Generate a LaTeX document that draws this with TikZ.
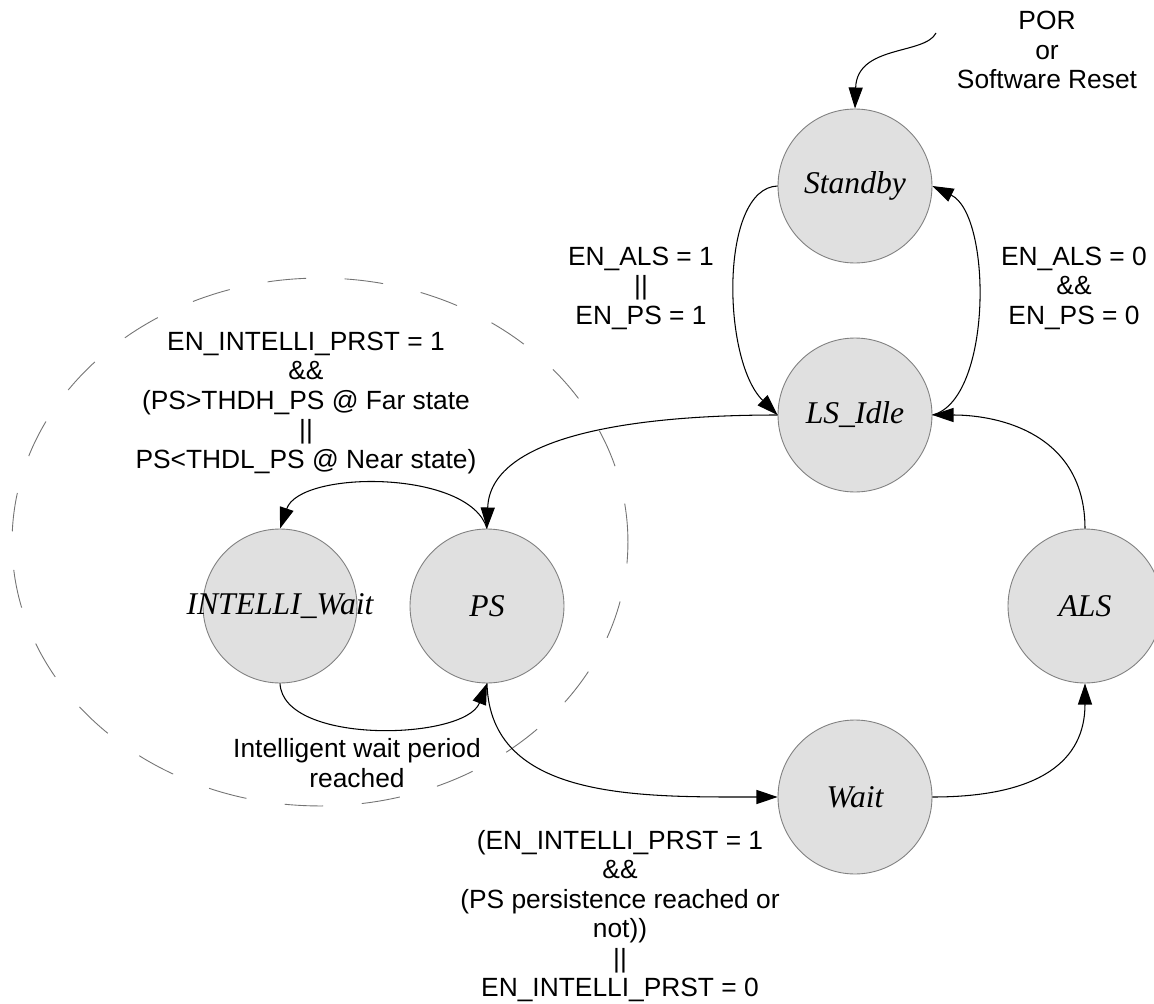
\documentclass[tikz,border=0pt]{standalone}
\usepackage{fontspec}
\setmainfont{Liberation Sans}
\newfontfamily\statefamily{Liberation Serif}
\usetikzlibrary{arrows.meta}
\tikzset{
  state/.style={circle, draw=black!50, line width=0.5pt, fill=black!12,
    minimum size=3.08cm, inner sep=0pt,
    font=\statefamily\itshape\fontsize{18}{20}\selectfont},
  conn/.style={draw=black, line width=0.6pt, -{Triangle[length=12pt,width=8pt]}},
  lbl/.style={align=center, font=\fontsize{15}{16.8}\selectfont, inner sep=0pt},
  grp/.style={draw=black!55, line width=0.5pt, dash pattern=on 22pt off 22pt}
}
\begin{document}
\begin{tikzpicture}[x=0.02cm, y=-0.02cm]
\useasboundingbox (0,0) rectangle (1154,1004);
\clip (0,0) rectangle (1154,1004);
\fill[white] (0,0) rectangle (1154,1004);

% group boundary
\draw[grp] (320,542) ellipse [x radius=6.16cm, y radius=5.28cm];

% states
\node[state] (standby) at (855,186) {Standby};
\node[state] (lsidle)  at (855,415) {LS\_Idle};
\node[state] (intelli) at (280,606) {\makebox[0pt]{INTELLI\_Wait}};
\node[state] (ps)      at (487,606) {PS};
\node[state] (als)     at (1085,606) {ALS};
\node[state] (wait)    at (855,797) {Wait};

\coordinate (por) at (936,33);

% connectors
\draw[conn] (por) .. controls +(-11,22) and +(2,-64) .. (standby.north);
\draw[conn] (standby.west) .. controls +(-58,2) and +(-56,-55) .. (lsidle.west);
\draw[conn] (lsidle.east) .. controls +(60,-15) and +(60,29) .. (standby.east);
\draw[conn] (als.north) .. controls +(0,-94) and +(68,0) .. (lsidle.east);
\draw[conn] (lsidle.west) .. controls +(-158,0) and +(3,-89) .. (ps.north);
\draw[conn] (ps.north) .. controls +(-17,-59) and +(20,-59) .. (intelli.north);
\draw[conn] (intelli.south) .. controls +(3,62) and +(-22,57) .. (ps.south);
\draw[conn] (ps.south) .. controls +(3,117) and +(-138,0) .. (wait.west);
\draw[conn] (wait.east) .. controls +(108,0) and +(0,77) .. (als.south);

% labels
\node[lbl] (lpor) at (1047,50) {POR\\or\\Software Reset};
\node[lbl] (lon) at (641,288) {EN\_ALS = 1\\||\\EN\_PS = 1};
\node[lbl] (loff) at (1074,288) {EN\_ALS = 0\\\&\&\\EN\_PS = 0};
\node[lbl] (lint) at (306,403) {EN\_INTELLI\_PRST = 1\\\&\&\\(PS>THDH\_PS @ Far state\\||\\PS<THDL\_PS @ Near state)};
\node[lbl] (lper) at (357,763) {Intelligent wait period\\reached};
\node[lbl] (lwait) at (620,916) {(EN\_INTELLI\_PRST = 1\\\&\&\\(PS persistence reached or\\not))\\||\\EN\_INTELLI\_PRST = 0};
\end{tikzpicture}
\end{document}
